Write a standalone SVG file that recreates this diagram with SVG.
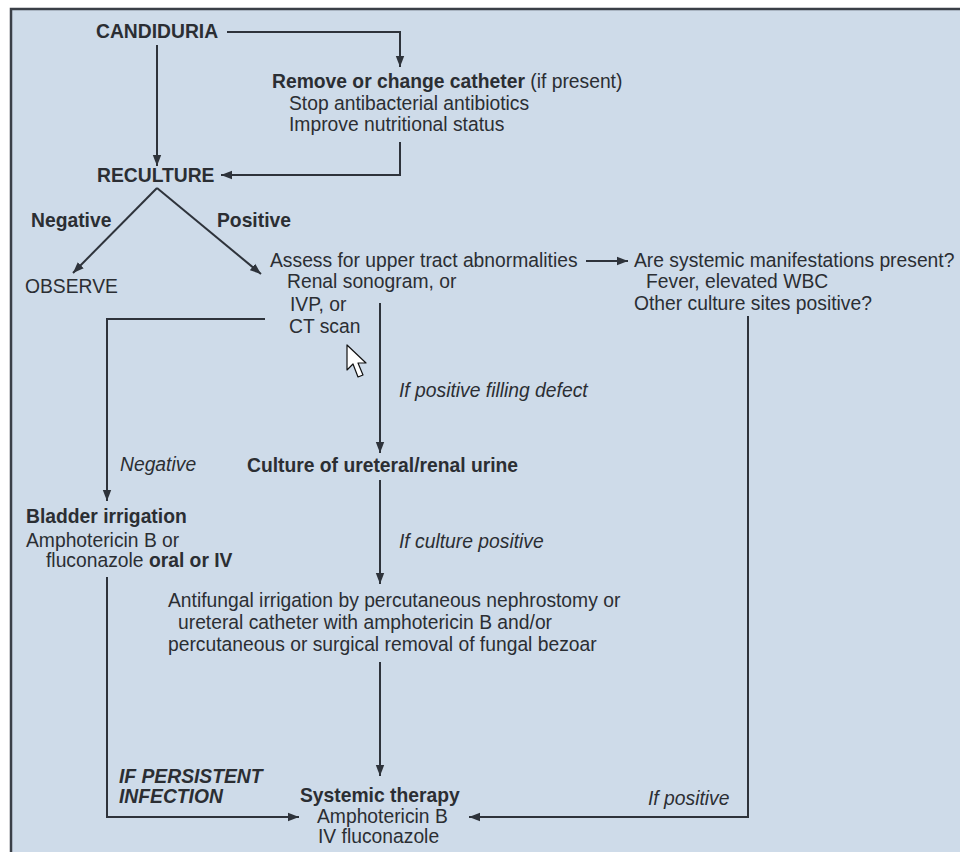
<svg xmlns="http://www.w3.org/2000/svg" width="960" height="852" viewBox="0 0 960 852">
<style>
text{font-family:"Liberation Sans",Arial,Helvetica,sans-serif;font-size:19.3px;fill:#2b2e33}
.b{font-weight:bold}
.i{font-style:italic}
.bi{font-weight:bold;font-style:italic}
.c{fill:none;stroke:#2e333b;stroke-width:2}
.ca{fill:none;stroke:#2e333b;stroke-width:2;marker-end:url(#ah)}
</style>
<defs>
<marker id="ah" markerUnits="userSpaceOnUse" markerWidth="12" markerHeight="10" viewBox="0 0 12 10" refX="11" refY="5" orient="auto">
<path d="M0,0.8 L11,5 L0,9.2 Z" fill="#2e333b"/>
</marker>
</defs>
<rect x="0" y="0" width="960" height="852" fill="#ffffff"/>
<rect x="11" y="9" width="949" height="843" fill="#cedbe9"/>
<path d="M11,852 V9 H960" fill="none" stroke="#3a3f47" stroke-width="2.5"/>

<g id="connectors">
<path class="ca" d="M227,32 H400 V67"/>
<path class="ca" d="M157,45 V166"/>
<path class="ca" d="M400,142 V175 H221"/>
<path class="ca" d="M157,188 L73,273"/>
<path class="ca" d="M157,188 L261,274"/>
<path class="ca" d="M586,261 H628"/>
<path class="ca" d="M265,319 H107 V501"/>
<path class="ca" d="M380,303 V453"/>
<path class="ca" d="M380,480 V584"/>
<path class="ca" d="M380,662 V776"/>
<path class="ca" d="M107,577 V817 H299"/>
<path class="ca" d="M748,316 V817 H469"/>
</g>

<g id="candiduria"><text class="b" x="96" y="38">CANDIDURIA</text></g>
<g id="remove-catheter">
<text x="272" y="88"><tspan class="b">Remove or change catheter</tspan> (if present)</text>
<text x="289" y="110">Stop antibacterial antibiotics</text>
<text x="289" y="131">Improve nutritional status</text>
</g>
<g id="reculture"><text class="b" x="97" y="182">RECULTURE</text></g>
<g id="label-negative"><text class="b" x="31" y="227">Negative</text></g>
<g id="label-positive"><text class="b" x="217" y="227">Positive</text></g>
<g id="observe"><text x="25" y="293">OBSERVE</text></g>
<g id="assess">
<text x="270" y="267">Assess for upper tract abnormalities</text>
<text x="287" y="288">Renal sonogram, or</text>
<text x="290" y="311">IVP, or</text>
<text x="289" y="333">CT scan</text>
</g>
<g id="systemic-manifestations">
<text x="634" y="267">Are systemic manifestations present?</text>
<text x="646" y="288">Fever, elevated WBC</text>
<text x="634" y="310">Other culture sites positive?</text>
</g>
<g id="label-filling"><text class="i" x="399" y="397">If positive filling defect</text></g>
<g id="label-negative2"><text class="i" x="120" y="471">Negative</text></g>
<g id="culture-urine"><text class="b" x="247" y="472">Culture of ureteral/renal urine</text></g>
<g id="bladder-irrigation">
<text class="b" x="26" y="523">Bladder irrigation</text>
<text x="26" y="547">Amphotericin B or</text>
<text x="46" y="567">fluconazole <tspan class="b">oral or IV</tspan></text>
</g>
<g id="label-culture-positive"><text class="i" x="399" y="548">If culture positive</text></g>
<g id="antifungal-irrigation">
<text x="168" y="607">Antifungal irrigation by percutaneous nephrostomy or</text>
<text x="178" y="629">ureteral catheter with amphotericin B and/or</text>
<text x="168" y="651">percutaneous or surgical removal of fungal bezoar</text>
</g>
<g id="label-persistent">
<text class="bi" x="119" y="783">IF PERSISTENT</text>
<text class="bi" x="119" y="803">INFECTION</text>
</g>
<g id="systemic-therapy">
<text class="b" x="300" y="802">Systemic therapy</text>
<text x="317" y="823">Amphotericin B</text>
<text x="318" y="843">IV fluconazole</text>
</g>
<g id="label-if-positive"><text class="i" x="648" y="805">If positive</text></g>

<g id="cursor">
<path d="M347,345 V370 L353,364 L358,377 L363,375 L358,363 L366,363 Z" fill="#ffffff" stroke="#111111" stroke-width="1.2" stroke-linejoin="round"/>
</g>
</svg>
